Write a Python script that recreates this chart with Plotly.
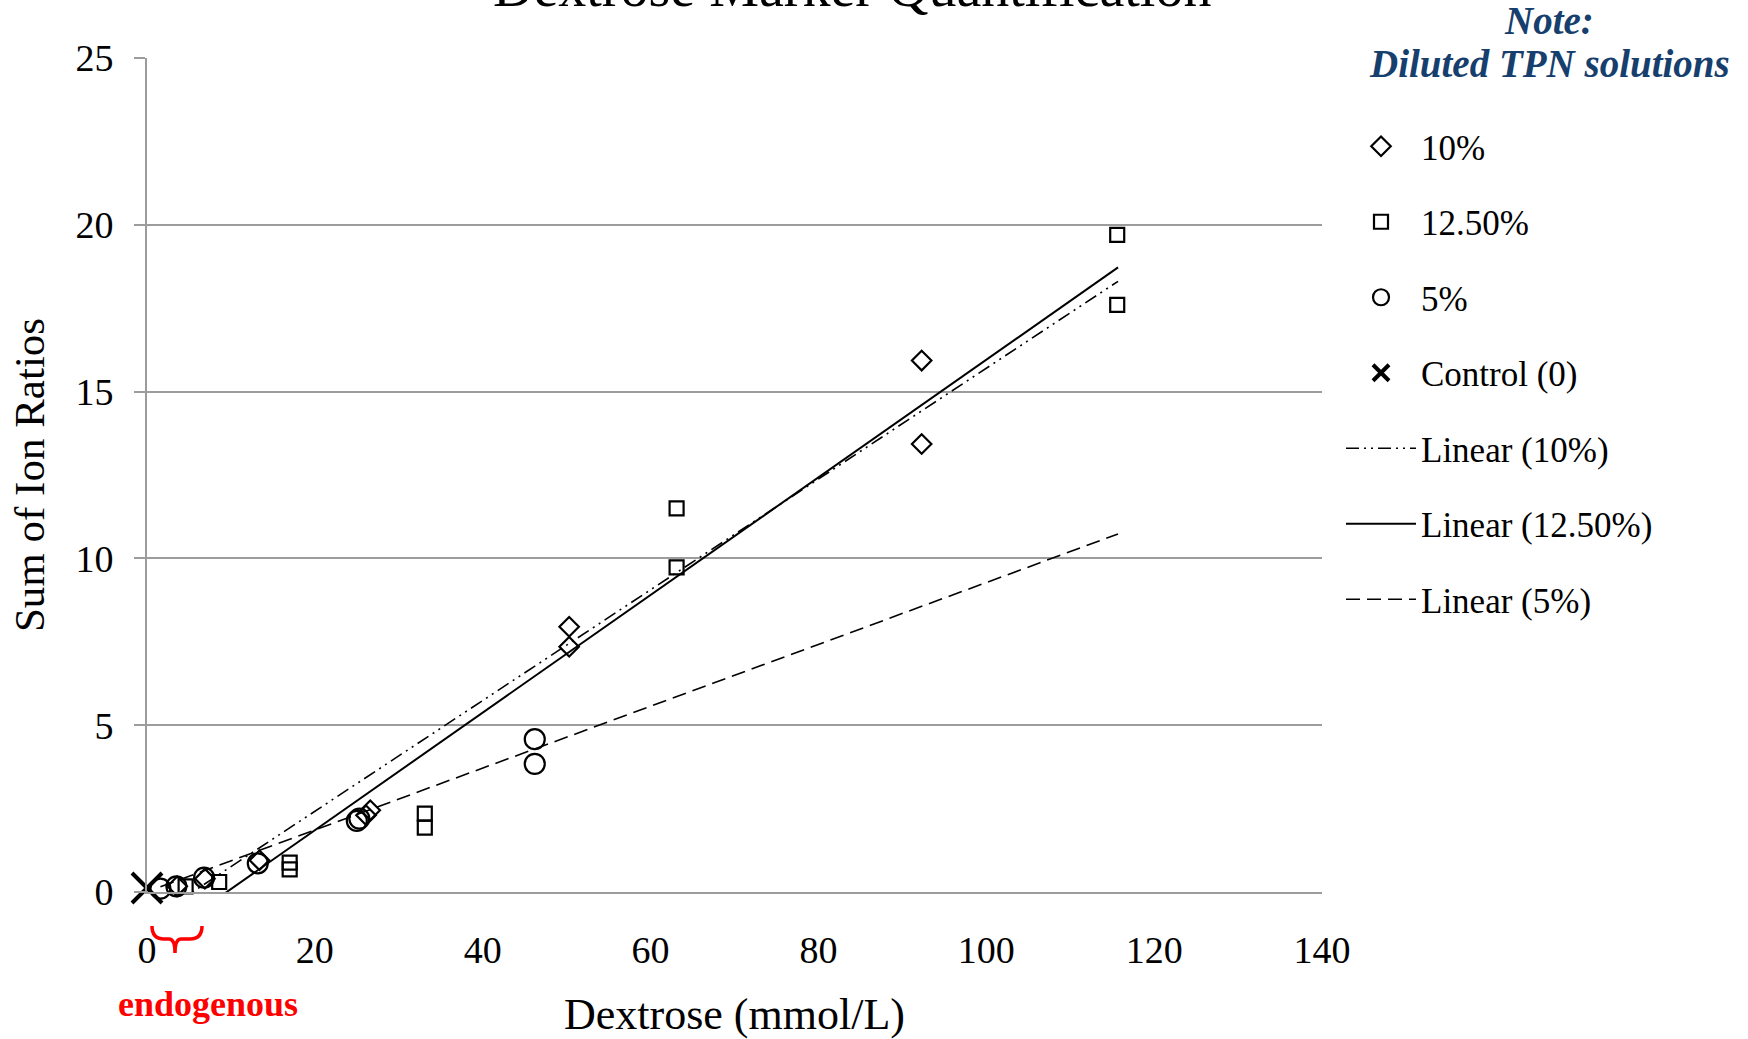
import plotly.graph_objects as go

# ---------------- data ----------------
conc_10 = [3.6, 6.9, 13.4, 26.1, 26.6, 50.3, 50.3, 92.3, 92.3]
ratio_10 = [0.17, 0.40, 0.95, 2.30, 2.45, 7.95, 7.35, 15.93, 13.43]

conc_125 = [4.6, 8.6, 17.0, 17.0, 33.1, 33.1, 63.1, 63.1, 115.6, 115.6]
ratio_125 = [0.17, 0.30, 0.88, 0.68, 2.35, 1.93, 11.5, 9.73, 19.7, 17.6]

conc_5 = [1.6, 3.5, 6.8, 13.2, 25.0, 25.3, 46.2, 46.2]
ratio_5 = [0.10, 0.17, 0.43, 0.86, 2.13, 2.20, 4.58, 3.84]

conc_ctrl = [0.0]
ratio_ctrl = [0.12]

# linear trend lines (slope, intercept, x-range)
fit_10 = dict(slope=0.166, intercept=-0.90, x=[3.6, 115.7])
fit_125 = dict(slope=0.1763, intercept=-1.675, x=[4.6, 115.7])
fit_5 = dict(slope=0.0927, intercept=0.006, x=[1.6, 115.7])

x_ticks = [0, 20, 40, 60, 80, 100, 120, 140]
y_ticks = [0, 5, 10, 15, 20, 25]

# ---------------- layout geometry ----------------
W, H = 1748, 1039
PX0, PX1, PY0, PY1 = 147, 1322, 58, 892   # plot area in page pixels
L, T = PX0, PY0
R, B = W - PX1, H - PY1
PW, PH = PX1 - PX0, PY1 - PY0
FONT = "Liberation Serif"
GRID = "#9c9c9c"


def px(xp):
    return (xp - PX0) / PW


def py(yp):
    return (PY1 - yp) / PH


def fit_y(f):
    return [f["slope"] * v + f["intercept"] for v in f["x"]]


fig = go.Figure()

mk_line = dict(color="black", width=2.2)
fig.add_trace(go.Scatter(x=conc_10, y=ratio_10, mode="markers", name="10%",
                         legendgroup="a", cliponaxis=False,
                         marker=dict(symbol="diamond-open", size=15, color="black",
                                     line=mk_line)))
fig.add_trace(go.Scatter(x=conc_125, y=ratio_125, mode="markers", name="12.50%",
                         legendgroup="b", cliponaxis=False,
                         marker=dict(symbol="square-open", size=14, color="black",
                                     line=mk_line)))
fig.add_trace(go.Scatter(x=conc_5, y=ratio_5, mode="markers", name="5%",
                         legendgroup="c", cliponaxis=False,
                         marker=dict(symbol="circle-open", size=20, color="black",
                                     line=mk_line)))
fig.add_trace(go.Scatter(x=conc_ctrl, y=ratio_ctrl, mode="markers", name="Control (0)",
                         legendgroup="d", cliponaxis=False,
                         marker=dict(symbol="x-thin-open", size=30, color="black",
                                     line=dict(color="black", width=4))))
fig.add_trace(go.Scatter(x=fit_10["x"], y=fit_y(fit_10), mode="lines", name="Linear (10%)",
                         legendgroup="e",
                         line=dict(color="black", width=1.6,
                                   dash="13px,5px,2px,5px,2px,5px")))
fig.add_trace(go.Scatter(x=fit_125["x"], y=fit_y(fit_125), mode="lines", name="Linear (12.50%)",
                         legendgroup="f",
                         line=dict(color="black", width=2)))
fig.add_trace(go.Scatter(x=fit_5["x"], y=fit_y(fit_5), mode="lines", name="Linear (5%)",
                         legendgroup="g",
                         line=dict(color="black", width=1.6, dash="14px,7px")))

fig.update_layout(
    width=W, height=H,
    margin=dict(l=L, r=R, t=T, b=B, autoexpand=False),
    paper_bgcolor="white", plot_bgcolor="white",
    font=dict(family=FONT, size=38, color="black"),
    showlegend=True,
    legend=dict(x=px(1341), y=py(117), xanchor="left", yanchor="top",
                font=dict(family=FONT, size=35, color="black"),
                itemsizing="trace", itemwidth=70,
                traceorder="grouped", tracegroupgap=27,
                bgcolor="rgba(0,0,0,0)", borderwidth=0),
    xaxis=dict(range=[0, 140], tickvals=x_ticks, ticktext=[str(v) for v in x_ticks],
               showgrid=False, zeroline=False,
               showline=True, linecolor=GRID, linewidth=2,
               ticks="", ticklabelstandoff=23,
               tickfont=dict(family=FONT, size=38),
               title=dict(text="Dextrose (mmol/L)", font=dict(family=FONT, size=44),
                          standoff=37)),
    yaxis=dict(range=[0, 25], tickvals=y_ticks, ticktext=[str(v) for v in y_ticks],
               showgrid=True, gridcolor=GRID, gridwidth=2, zeroline=False,
               showline=True, linecolor=GRID, linewidth=2,
               ticks="outside", ticklen=11, tickcolor=GRID, tickwidth=2,
               ticklabelstandoff=13,
               tickfont=dict(family=FONT, size=38),
               title=dict(text="Sum of Ion Ratios", font=dict(family=FONT, size=43),
                          standoff=17)),
)

annotations = [
    dict(text="Dextrose Marker Quantification", x=px(852), y=py(20),
         xanchor="center", yanchor="bottom", showarrow=False,
         font=dict(family=FONT, size=56, color="black")),
    dict(text="<b><i>Note:</i></b>", x=px(1549), y=py(20),
         xanchor="center", yanchor="middle", showarrow=False,
         font=dict(family=FONT, size=39, color="#173F6E")),
    dict(text="<b><i>Diluted TPN solutions</i></b>", x=px(1549), y=py(64),
         xanchor="center", yanchor="middle", showarrow=False,
         font=dict(family=FONT, size=39, color="#173F6E")),
    dict(text="<b>endogenous</b>", x=px(208), y=py(1004),
         xanchor="center", yanchor="middle", showarrow=False,
         font=dict(family=FONT, size=36, color="#ff0000")),
]
for a in annotations:
    a["xref"] = "paper"
    a["yref"] = "paper"
fig.update_layout(annotations=annotations)

# red curly brace under the x-axis marking the endogenous range
bx = [px(v) for v in (152, 175, 202)]
by = [py(v) for v in (926, 939, 953)]
brace = (f"M {bx[0]},{by[0]} Q {bx[0]},{by[1]} {px(164)},{by[1]} "
         f"L {px(169)},{by[1]} Q {bx[1]},{by[1]} {bx[1]},{by[2]} "
         f"Q {bx[1]},{by[1]} {px(181)},{by[1]} "
         f"L {px(190)},{by[1]} Q {bx[2]},{by[1]} {bx[2]},{by[0]}")
fig.add_shape(type="path", path=brace, xref="paper", yref="paper",
              line=dict(color="#ff0000", width=3.5))

# place the figure flush with the page corner (remove default body margin)
fig.write_html("out.html",
               config={"displayModeBar": False},
               post_script="document.body.style.margin='0px';"
                           "document.body.style.overflow='hidden';")
